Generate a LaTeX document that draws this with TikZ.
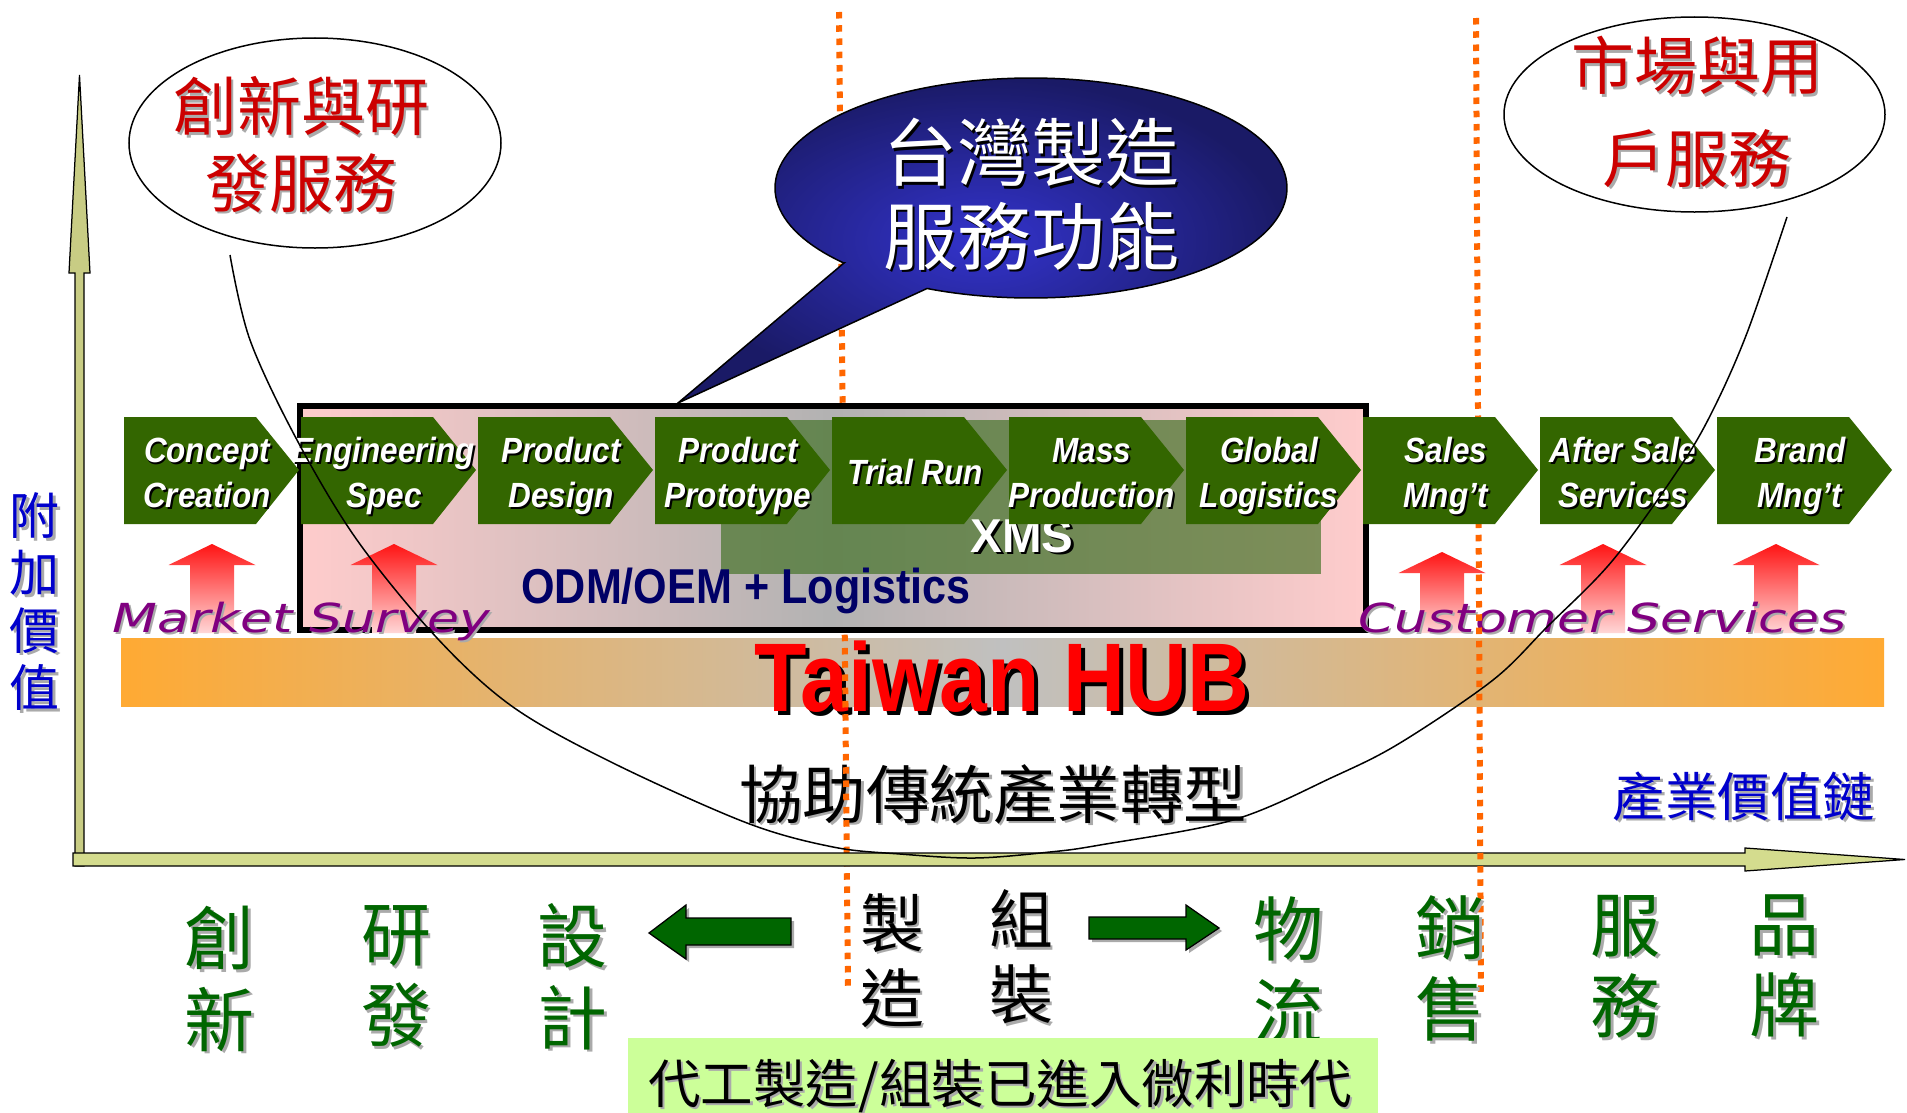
\documentclass[tikz,border=0pt]{standalone}
\usepackage{fontspec}
\usetikzlibrary{shapes.geometric}
\setmainfont{Liberation Sans}
\newfontfamily\cjk{Noto Sans CJK TC}
\newfontfamily\chevfont[FakeStretch=0.9]{Liberation Sans}
\newfontfamily\narrowfont[FakeStretch=0.88]{Liberation Sans}
\newfontfamily\widefont[FakeStretch=1.3]{DejaVu Sans}
\definecolor{chevgreen}{RGB}{51,102,0}
\definecolor{pinkc}{RGB}{255,204,204}
\definecolor{grayc}{RGB}{178,178,178}
\definecolor{bandor}{RGB}{255,170,51}
\definecolor{bandgray}{RGB}{192,192,192}
\definecolor{orline}{RGB}{255,102,0}
\definecolor{xmsg}{RGB}{60,110,30}
\definecolor{navyc}{RGB}{0,0,102}
\definecolor{arrtop}{RGB}{255,20,20}
\definecolor{arrbot}{RGB}{255,215,215}
\definecolor{purp}{RGB}{128,0,128}
\definecolor{bubin}{RGB}{51,51,204}
\definecolor{bubout}{RGB}{26,26,102}
\definecolor{ellred}{RGB}{204,0,0}
\definecolor{bgreen}{RGB}{0,102,0}
\definecolor{vblue}{RGB}{0,0,204}
\definecolor{axisv}{RGB}{200,204,132}
\definecolor{axish}{RGB}{212,220,142}
\definecolor{boxg}{RGB}{204,255,153}
\definecolor{shgray}{RGB}{170,170,170}
\newcommand\myshd[3]{\rlap{\kern#2\raisebox{-#2}{\textcolor{#1}{#3}}}#3}
\newcommand\csh[1]{\myshd{black}{0.8pt}{#1}}
\newcommand\gsh[1]{\myshd{shgray}{1pt}{#1}}
\newcommand\mytab[1]{\begin{tabular}{@{}c@{}}#1\end{tabular}}
\newcommand\chev[3]{%
  \fill[chevgreen] (#1,417) -- ++(132,0) -- ++(43,53) -- ++(-43,54) -- ++(-132,0) -- cycle;
  \node[chevtxt] (#2) at ({#1+83},475.5) {\mytab{#3}};}
\newcommand\redup[2]{%
  \shade[top color=arrtop, bottom color=arrbot] (#1,#2) -- ({#1+43.5},{#2+21}) -- ({#1+22},{#2+21}) -- ({#1+22},633) -- ({#1-22},633) -- ({#1-22},{#2+21}) -- ({#1-43.5},{#2+21}) -- cycle;}
\begin{document}
\begin{tikzpicture}[x=0.4pt,y=-0.4pt,
  chevtxt/.style={font=\chevfont\bfseries\itshape\fontsize{14}{18}\selectfont, text=white, inner sep=0pt},
  gch/.style={font=\cjk\fontsize{28}{30}\selectfont, text=bgreen, inner sep=0pt},
  kch/.style={font=\cjk\fontsize{25.6}{28}\selectfont, text=black, inner sep=0pt},
  ellipsebox/.style={draw=black, line width=0.6pt, fill=white},
  dotline/.style={orline, line width=2.4pt, dash pattern=on 2.6pt off 2.7pt},
  axisline/.style={draw=black, line width=0.5pt}]
\useasboundingbox (0,0) rectangle (1907,1113);
\fill[white] (0,0) rectangle (1907,1113);

% Taiwan HUB band
\shade[left color=bandor, right color=bandor, middle color=bandgray] (121,638) rectangle (1884,706);
\node[font=\narrowfont\bfseries\fontsize{39}{44}\selectfont, text=red, anchor=base, inner sep=0pt] (hub) at (1002,711) {\myshd{black}{1.6pt}{Taiwan HUB}};
\node[font=\cjk\fontsize{25.4}{28}\selectfont, anchor=base, inner sep=0pt] (trans) at (993,818) {\gsh{協助傳統產業轉型}};
\node[font=\cjk\fontsize{21}{24}\selectfont, text=vblue, anchor=base, inner sep=0pt] (chain) at (1744,816) {\gsh{產業價值鏈}};

% orange dotted line 1
\draw[dotline] (839,12) -- (848,990);

% big box
\draw[line width=2.4pt, left color=pinkc, right color=pinkc, middle color=grayc] (299.5,406) rectangle (1365.5,630);
\fill[xmsg, fill opacity=0.65] (721,420) rectangle (1321,574);
\node[font=\bfseries\fontsize{19}{22}\selectfont, text=white, anchor=base, inner sep=0pt] (xms) at (1022,552) {\myshd{black}{1pt}{XMS}};
\node[font=\narrowfont\bfseries\fontsize{19.6}{22}\selectfont, text=navyc, anchor=base, inner sep=0pt] (odm) at (746,603) {ODM/OEM + Logistics};

% red arrows
\redup{212}{544}
\redup{394}{544}
\redup{1442}{552}
\redup{1603}{544}
\redup{1776}{544}

% labels
\node[font=\widefont\itshape\fontsize{16}{19}\selectfont, text=purp, anchor=base, inner sep=0pt] (ms) at (301.5,632) {\myshd{shgray}{0.8pt}{Market Survey}};
\node[font=\widefont\itshape\fontsize{16}{19}\selectfont, text=purp, anchor=base, inner sep=0pt] (cs) at (1602.5,632) {\myshd{shgray}{0.8pt}{Customer Services}};

% axes
\path[axisline, fill=axisv] (79.5,75) -- (90,273) -- (84,273) -- (84,866) -- (75,866) -- (75,273) -- (69,273) -- cycle;
\path[axisline, fill=axish] (73,853) -- (1745,853) -- (1745,848) -- (1905,859.5) -- (1745,871) -- (1745,866) -- (73,866) -- cycle;
\node[font=\cjk\fontsize{20}{20.8}\selectfont, text=vblue, inner sep=0pt] (vaxis) at (35,607.6) {\mytab{\gsh{附}\\\gsh{加}\\\gsh{價}\\\gsh{值}}};

% bubble
\draw[line width=0.6pt, inner color=bubin, outer color=bubout] (927,288.5) -- (678,403) -- (844,263) -- plot[domain=137:474, samples=150, variable=\t] ({1031+256*cos(\t)},{188+110*sin(\t)}) -- cycle;
\node[font=\cjk\fontsize{29.6}{28.8}\selectfont, text=white, inner sep=0pt] (bubtxt) at (1031,202) {\mytab{\myshd{black}{1pt}{台灣製造}\\\myshd{black}{1pt}{服務功能}}};

% ellipses
\node[ellipsebox, shape=ellipse, inner sep=0pt, minimum width=148.8pt, minimum height=84pt] (ell1) at (315,143) {};
\node[font=\cjk\fontsize{25.6}{30.4}\selectfont, text=ellred, inner sep=0pt] (ell1t) at (301,153.4) {\mytab{\gsh{創新與研}\\\gsh{發服務}}};
\node[ellipsebox, shape=ellipse, inner sep=0pt, minimum width=152.4pt, minimum height=78pt] (ell2) at (1694.5,114.5) {};
\node[font=\cjk\fontsize{25.2}{36.8}\selectfont, text=ellred, inner sep=0pt] (ell2t) at (1697,117.6) {\mytab{\gsh{市場與用}\\\gsh{戶服務}}};

% orange dotted line 2
\draw[dotline] (1476,18) -- (1481,997);

% chevrons
\chev{124}{ch1}{\csh{Concept}\\\csh{Creation}}
\chev{301}{ch2}{\csh{Engineering}\\\csh{Spec}}
\chev{478}{ch3}{\csh{Product}\\\csh{Design}}
\chev{655}{ch4}{\csh{Product}\\\csh{Prototype}}
\chev{832}{ch5}{\csh{Trial Run}}
\chev{1009}{ch6}{\csh{Mass}\\\csh{Production}}
\chev{1186}{ch7}{\csh{Global}\\\csh{Logistics}}
\chev{1363}{ch8}{\csh{Sales}\\\csh{Mng’t}}
\chev{1540}{ch9}{\csh{After Sale}\\\csh{Services}}
\chev{1717}{ch10}{\csh{Brand}\\\csh{Mng’t}}

% U curve
\draw[line width=0.6pt] plot[smooth, tension=0.55] coordinates {(230,255) (250,340) (297,440) (357,540) (437,638) (513,707) (613,763) (747,823) (833,847) (900,854) (975,858) (1050,852) (1100,845) (1233,820) (1333,777) (1400,743) (1493,680) (1547,627) (1613,560) (1680,467) (1713,410) (1747,333) (1787,217)};

% bottom characters
\node[gch] (b1) at (219.5,987.6) {\mytab{\gsh{創}\\\gsh{新}}};
\node[gch] (b2) at (396,985) {\mytab{\gsh{研}\\\gsh{發}}};
\node[gch] (b3) at (572.5,985) {\mytab{\gsh{設}\\\gsh{計}}};
\node[kch] (b4) at (892,968.3) {\mytab{\gsh{製}\\\gsh{造}}};
\node[kch] (b5) at (1021,964.8) {\mytab{\gsh{組}\\\gsh{裝}}};
\node[gch] (b6) at (1288.5,978.4) {\mytab{\gsh{物}\\\gsh{流}}};
\node[gch] (b7) at (1450.5,976.6) {\mytab{\gsh{銷}\\\gsh{售}}};
\node[gch] (b8) at (1625.5,975) {\mytab{\gsh{服}\\\gsh{務}}};
\node[gch] (b9) at (1784.5,974.6) {\mytab{\gsh{品}\\\gsh{牌}}};

% green arrows
\fill[shgray] (652,936) -- (689,908) -- (689,921) -- (794,921) -- (794,948) -- (689,948) -- (689,962) -- cycle;
\path[draw=black, line width=0.5pt, fill=bgreen] (649,933) -- (686,905) -- (686,918) -- (791,918) -- (791,945) -- (686,945) -- (686,959) -- cycle;
\fill[shgray] (1222,931) -- (1189,908) -- (1189,920) -- (1092,920) -- (1092,942) -- (1189,942) -- (1189,953) -- cycle;
\path[draw=black, line width=0.5pt, fill=bgreen] (1219,928) -- (1186,905) -- (1186,917) -- (1089,917) -- (1089,939) -- (1186,939) -- (1186,950) -- cycle;

% bottom box
\fill[boxg] (628,1038) rectangle (1378,1113);
\node[font=\cjk\fontsize{21}{24}\selectfont, anchor=base, inner sep=0pt] (micro) at (1000,1103) {\gsh{代工製造/組裝已進入微利時代}};
\end{tikzpicture}
\end{document}
